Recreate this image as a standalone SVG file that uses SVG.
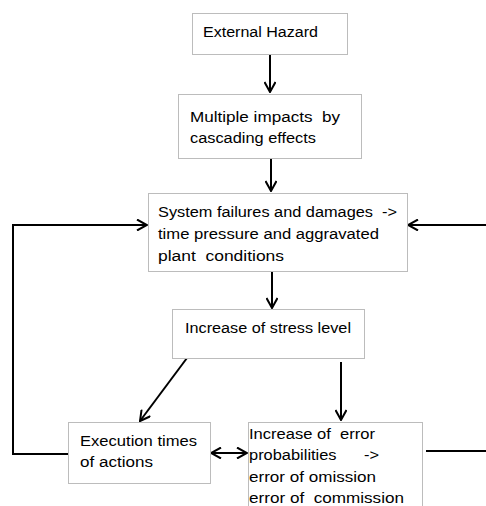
<svg xmlns="http://www.w3.org/2000/svg" width="486" height="506" viewBox="0 0 486 506" xml:space="preserve">
  <style>
    .box { fill: #ffffff; stroke: #bcbcbc; stroke-width: 1; }
    .lbl { font-family: "Liberation Sans", Arial, sans-serif; font-size: 15.5px; fill: #000000; white-space: pre; }
    .wire { fill: none; stroke: #000000; stroke-width: 2; }
  </style>
  <defs>
    <marker id="head" viewBox="0 0 12 12" refX="11" refY="6" markerWidth="12" markerHeight="12" markerUnits="userSpaceOnUse" orient="auto-start-reverse">
      <path d="M1,0.5 L11,6 L1,11.5" fill="none" stroke="#000000" stroke-width="2"/>
    </marker>
  </defs>
  <rect width="486" height="506" fill="#ffffff"/>

  <g id="connectors">
    <line class="wire" x1="270" y1="54" x2="270" y2="92" marker-end="url(#head)"/>
    <line class="wire" x1="271" y1="158" x2="271" y2="191" marker-end="url(#head)"/>
    <line class="wire" x1="272" y1="271" x2="272" y2="308" marker-end="url(#head)"/>
    <polyline class="wire" points="68,454 13,454 13,225 147,225" marker-end="url(#head)"/>
    <line class="wire" x1="486" y1="225" x2="408" y2="225" marker-end="url(#head)"/>
    <line class="wire" x1="187" y1="358" x2="140" y2="421" marker-end="url(#head)"/>
    <line class="wire" x1="341" y1="362" x2="341" y2="420" marker-end="url(#head)"/>
    <line class="wire" x1="211" y1="453" x2="247" y2="453" marker-start="url(#head)" marker-end="url(#head)"/>
    <line class="wire" x1="426" y1="451" x2="486" y2="451"/>
  </g>

  <g id="external-hazard">
    <rect class="box" x="192.5" y="13.5" width="155" height="41"/>
    <text class="lbl" x="203" y="37" textLength="115" lengthAdjust="spacingAndGlyphs">External Hazard</text>
  </g>

  <g id="multiple-impacts">
    <rect class="box" x="178.5" y="94.5" width="183" height="64"/>
    <text class="lbl" x="190" y="122" textLength="150" lengthAdjust="spacingAndGlyphs">Multiple impacts  by</text>
    <text class="lbl" x="190" y="143" textLength="126" lengthAdjust="spacingAndGlyphs">cascading effects</text>
  </g>

  <g id="system-failures">
    <rect class="box" x="148.5" y="193.5" width="259" height="78"/>
    <text class="lbl" x="158" y="217" textLength="239" lengthAdjust="spacingAndGlyphs">System failures and damages  -&gt;</text>
    <text class="lbl" x="158" y="239" textLength="221" lengthAdjust="spacingAndGlyphs">time pressure and aggravated</text>
    <text class="lbl" x="158" y="261" textLength="126" lengthAdjust="spacingAndGlyphs">plant  conditions</text>
  </g>

  <g id="stress-level">
    <rect class="box" x="172.5" y="309.5" width="192" height="49"/>
    <text class="lbl" x="185" y="333" textLength="166" lengthAdjust="spacingAndGlyphs">Increase of stress level</text>
  </g>

  <g id="execution-times">
    <rect class="box" x="68.5" y="422.5" width="142" height="61"/>
    <text class="lbl" x="80" y="446" textLength="117" lengthAdjust="spacingAndGlyphs">Execution times</text>
    <text class="lbl" x="80" y="467" textLength="73" lengthAdjust="spacingAndGlyphs">of actions</text>
  </g>

  <g id="error-probabilities">
    <rect class="box" x="248.5" y="422.5" width="174" height="100"/>
    <text class="lbl" x="249" y="439" textLength="126" lengthAdjust="spacingAndGlyphs">Increase of  error</text>
    <text class="lbl" x="249" y="460" textLength="130" lengthAdjust="spacingAndGlyphs">probabilities      -&gt;</text>
    <text class="lbl" x="249" y="482" textLength="127" lengthAdjust="spacingAndGlyphs">error of omission</text>
    <text class="lbl" x="249" y="503" textLength="155" lengthAdjust="spacingAndGlyphs">error of  commission</text>
  </g>
</svg>
